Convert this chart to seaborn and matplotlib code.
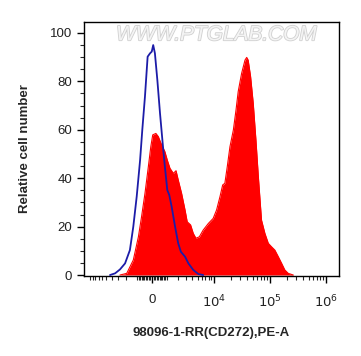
import numpy as np
import pandas as pd
import matplotlib
matplotlib.use('Agg')
import matplotlib.pyplot as plt
import matplotlib.patheffects as pe
import seaborn as sns

# display cofactor of the arcsinh (biexponential-like) axis
cofactor = 1570

# stained sample (red, filled) - x in arcsinh units, y relative cell number
stained_x = [-1.32, -1.04, -0.77, -0.56, -0.43, -0.29, -0.15, -0.05, 0.03, 0.16, 0.26, 0.40,
             0.53, 0.63, 0.74, 0.88, 0.99, 1.08, 1.22, 1.36, 1.45, 1.59, 1.70, 1.81, 1.95,
             2.11, 2.32, 2.52, 2.66, 2.80, 2.91, 3.00, 3.10, 3.21, 3.35, 3.46, 3.55, 3.69,
             3.83, 3.90, 3.96, 4.06, 4.17, 4.28, 4.38, 4.51, 4.65, 4.79, 4.92, 5.06, 5.20,
             5.34, 5.47, 5.61, 5.82]
stained_y = [0, 0.7, 6.2, 15.8, 24.1, 33.7, 44.8, 53.0, 57.9, 58.5, 57.2, 53.7,
             51.0, 47.5, 44.1, 42.0, 43.1, 39.3, 33.7, 26.9, 22.0, 20.7, 17.2, 15.2, 15.8,
             18.6, 21.3, 23.4, 26.9, 32.4, 37.2, 37.9, 44.8, 53.0, 59.9, 68.2, 75.8, 83.3,
             88.8, 89.9, 88.8, 82.0, 70.9, 55.8, 40.6, 22.7, 17.2, 13.1, 11.7, 10.3, 7.6,
             4.8, 2.1, 0.7, 0]

# unstained control (blue line)
control_x = [-1.73, -1.52, -1.32, -1.11, -0.91, -0.77, -0.63, -0.49, -0.40, -0.29, -0.18,
             -0.08, -0.01, 0.05, 0.12, 0.22, 0.33, 0.44, 0.53, 0.63, 0.71, 0.81, 0.95,
             1.08, 1.19, 1.36, 1.50, 1.70, 1.91, 2.11]
control_y = [0, 0.7, 2.3, 4.8, 10.3, 20.0, 32.4, 47.5, 59.9, 73.7, 90.2,
             91.6, 92.3, 95.0, 91.6, 80.6, 66.8, 54.4, 44.8, 35.1, 33.1, 28.2, 20.0,
             13.1, 9.6, 7.6, 4.8, 2.1, 0.4, 0]

major_vals = [0, 1e4, 1e5, 1e6]
major_labels = ['0', '$10^4$', '$10^5$', '$10^6$']

sns.set_style('ticks')
plt.rcParams['font.family'] = ['Liberation Sans', 'DejaVu Sans']

fig = plt.figure(figsize=(3.61, 3.56), dpi=100)
ax = fig.add_axes([0.2327, 0.2247, 0.7063, 0.7133])

stained = pd.DataFrame({'x': stained_x, 'y': stained_y})
control = pd.DataFrame({'x': control_x, 'y': control_y})

ax.fill_between(stained['x'], stained['y'], 0, color='#ff0000', lw=0, zorder=2)
sns.lineplot(data=stained, x='x', y='y', color='#ff0000', lw=0.8, ax=ax, zorder=2)
sns.lineplot(data=control, x='x', y='y', color='#1c1ca8', lw=1.3, ax=ax, zorder=3)

# watermark
ax.text(0.52, 0.95, 'WWW.PTGLAB.COM', transform=ax.transAxes, ha='center', va='center',
        fontsize=15, color='#f4f4f4', style='italic', zorder=1,
        path_effects=[pe.withStroke(linewidth=1.2, foreground='#d0d0d0')])

ax.set_xlim(-2.80, 7.70)
ax.set_ylim(-0.4, 104.5)

major_pos = np.arcsinh(np.array(major_vals) / cofactor)
ax.set_xticks(major_pos)
ax.set_xticklabels(major_labels)
minor_vals = [-m * 10 ** e for e in (2, 3) for m in range(1, 10)] + [-1e4]
minor_vals += [m * 10 ** e for e in (2, 3, 4, 5) for m in range(1, 10)]
ax.set_xticks(np.arcsinh(np.array(minor_vals) / cofactor), minor=True)

ax.set_yticks(range(0, 101, 20))
ax.set_yticks(range(0, 105, 5), minor=True)

ax.tick_params(axis='both', which='major', length=5, width=1, labelsize=9.5,
               colors='black', labelcolor='#222222')
ax.tick_params(axis='both', which='minor', length=3, width=0.8)
ax.tick_params(axis='x', which='major', pad=8)

for s in ax.spines.values():
    s.set_linewidth(1.0)
    s.set_color('black')

ax.set_xlabel('98096-1-RR(CD272),PE-A', fontsize=9.5, fontweight='bold', labelpad=12)
ax.set_ylabel('Relative cell number', fontsize=9.5, fontweight='bold', labelpad=14)

fig.savefig('out.png', dpi=100)
